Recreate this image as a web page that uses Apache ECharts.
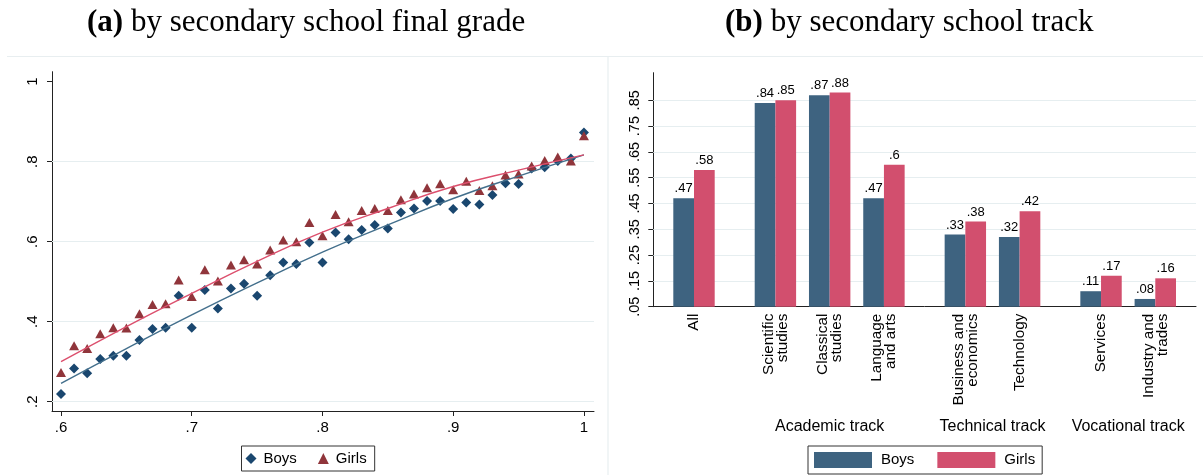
<!DOCTYPE html>
<html>
<head>
<meta charset="utf-8">
<script src="https://cdn.jsdelivr.net/npm/echarts@6/dist/echarts.min.js"></script>
<style>
  html, body { margin: 0; padding: 0; background: #fff; }
  #chart { width: 1203px; height: 475px; }
</style>
</head>
<body>
<div id="chart"></div>
<script>
// ---- Panel (a): share by secondary school final grade ----
const grade = [0.60, 0.61, 0.62, 0.63, 0.64, 0.65, 0.66, 0.67, 0.68, 0.69,
               0.70, 0.71, 0.72, 0.73, 0.74, 0.75, 0.76, 0.77, 0.78, 0.79,
               0.80, 0.81, 0.82, 0.83, 0.84, 0.85, 0.86, 0.87, 0.88, 0.89,
               0.90, 0.91, 0.92, 0.93, 0.94, 0.95, 0.96, 0.97, 0.98, 0.99, 1.00];
const boysShare = [0.219, 0.283, 0.271, 0.307, 0.315, 0.315, 0.354, 0.382, 0.385, 0.465,
                   0.385, 0.479, 0.433, 0.483, 0.495, 0.465, 0.516, 0.548, 0.544, 0.598,
                   0.548, 0.623, 0.606, 0.629, 0.642, 0.633, 0.673, 0.683, 0.702, 0.702,
                   0.682, 0.698, 0.693, 0.717, 0.746, 0.744, 0.783, 0.786, 0.802, 0.808, 0.873];
const girlsShare = [0.273, 0.340, 0.333, 0.370, 0.385, 0.384, 0.420, 0.443, 0.445, 0.504,
                    0.463, 0.530, 0.502, 0.542, 0.555, 0.544, 0.579, 0.604, 0.600, 0.648,
                    0.615, 0.668, 0.650, 0.678, 0.683, 0.678, 0.705, 0.719, 0.735, 0.745,
                    0.730, 0.751, 0.728, 0.740, 0.767, 0.769, 0.789, 0.803, 0.812, 0.802, 0.865];
// fitted curves
const fitGrade = [0.60, 0.65, 0.70, 0.75, 0.80, 0.85, 0.90, 0.95, 1.00];
const boysFit  = [0.246, 0.333, 0.417, 0.497, 0.574, 0.642, 0.708, 0.764, 0.817];
const girlsFit = [0.300, 0.388, 0.471, 0.551, 0.624, 0.683, 0.738, 0.779, 0.817];
const gradeTicks = [0.6, 0.7, 0.8, 0.9, 1];
const shareTicks = [0.2, 0.4, 0.6, 0.8, 1];
const shareGridLines = [0.2, 0.4, 0.6, 0.8];

// ---- Panel (b): share by secondary school track ----
const tracks = ['All', 'Scientific\nstudies', 'Classical\nstudies', 'Language\nand arts',
                'Business and\neconomics', 'Technology', 'Services', 'Industry and\ntrades'];
const boysRate  = [0.47, 0.84, 0.87, 0.47, 0.33, 0.32, 0.11, 0.08];
const girlsRate = [0.58, 0.85, 0.88, 0.60, 0.38, 0.42, 0.17, 0.16];
const trackGroups = ['Academic track', 'Technical track', 'Vocational track'];
const rateTicks = [0.05, 0.15, 0.25, 0.35, 0.45, 0.55, 0.65, 0.75, 0.85];

// slot layout of the track axis (half-width slots, gaps between groups)
const SLOTS = 20;
const trackSlot = [1, 4, 6, 8, 11, 13, 16, 18];
const groupSlot = [6, 12, 17];

const C = {
  navy: '#1a476f', maroon: '#90353b',
  boysLine: '#436f8c', girlsLine: '#dc4f6d',
  boysBar: '#3e6380', girlsBar: '#d24f6e',
  grid: '#e6eef0', axis: '#222', frame: '#e8eef0'
};
const SANS = 'Liberation Sans, Arial, sans-serif';
const SERIF = 'Liberation Serif, Times New Roman, serif';

const fmt = v => {
  const s = String(+Number(v).toFixed(2));
  return s.replace(/^0\./, '.');
};

const slotIdx = Array.from({ length: SLOTS }, (_, i) => String(i));
const slotTrackName = Array(SLOTS).fill('');
trackSlot.forEach((s, i) => { slotTrackName[s] = tracks[i]; });
const slotGroupName = Array(SLOTS).fill('');
groupSlot.forEach((s, i) => { slotGroupName[s] = trackGroups[i]; });
const boysSlots = Array(SLOTS).fill(null);
const girlsSlots = Array(SLOTS).fill(null);
trackSlot.forEach((s, i) => { boysSlots[s] = boysRate[i]; girlsSlots[s] = girlsRate[i]; });

const gridLineMark = values => ({
  silent: true,
  symbol: 'none',
  z: 1,
  label: { show: false },
  lineStyle: { color: C.grid, width: 1.2, type: 'solid' },
  data: values.map(v => ({ yAxis: v }))
});

const titleStyle = {
  fontFamily: SERIF, fontSize: 31, fontWeight: 'normal', color: '#000',
  rich: { b: { fontFamily: SERIF, fontSize: 31, fontWeight: 'bold', color: '#000' } }
};

const chart = echarts.init(document.getElementById('chart'), null, { renderer: 'canvas' });

const option = {
  backgroundColor: '#fff',
  animation: false,
  title: [
    { text: '{b|(a)} by secondary school final grade', left: 82, top: 2, textStyle: titleStyle },
    { text: '{b|(b)} by secondary school track', left: 720, top: 2, textStyle: titleStyle }
  ],
  graphic: [
    { type: 'line', silent: true, shape: { x1: 7, y1: 56.5, x2: 1203, y2: 56.5 },
      style: { stroke: C.frame, lineWidth: 1.2 } },
    { type: 'line', silent: true, shape: { x1: 608, y1: 56.5, x2: 608, y2: 475 },
      style: { stroke: C.frame, lineWidth: 1.2 } }
  ],
  legend: [
    {
      left: 241.5, top: 446,
      orient: 'horizontal',
      borderColor: '#333', borderWidth: 1, borderRadius: 0,
      padding: [5, 8, 5, 4],
      itemWidth: 11, itemHeight: 11, itemGap: 21,
      textStyle: { fontFamily: SANS, fontSize: 15, color: '#000', padding: [0, 0, 0, 2] },
      data: [
        { name: 'Boys', icon: 'diamond', itemStyle: { color: C.navy, opacity: 1 } },
        { name: 'Girls', icon: 'triangle', itemStyle: { color: C.maroon, opacity: 1 } }
      ]
    },
    {
      left: 808, top: 446,
      orient: 'horizontal',
      borderColor: '#333', borderWidth: 1, borderRadius: 0,
      padding: [6, 7, 6, 6],
      itemWidth: 58, itemHeight: 16, itemGap: 23,
      textStyle: { fontFamily: SANS, fontSize: 15, color: '#000', padding: [0, 0, 0, 4] },
      data: [
        { name: 'Boys', icon: 'rect', itemStyle: { color: C.boysBar, opacity: 1 } },
        { name: 'Girls', icon: 'rect', itemStyle: { color: C.girlsBar, opacity: 1 } }
      ]
    }
  ],
  grid: [
    { left: 52, top: 71.7, width: 542, height: 339.3, containLabel: false, outerBoundsMode: 'none' },
    { left: 653.3, top: 72.7, width: 542.7, height: 234, containLabel: false, outerBoundsMode: 'none' }
  ],
  xAxis: [
    {
      type: 'value', gridIndex: 0, min: 0.5931, max: 1.0077,
      axisLine: { show: true, lineStyle: { color: C.axis, width: 1 } },
      axisTick: { show: true, length: 5, customValues: gradeTicks, lineStyle: { color: C.axis } },
      axisLabel: { customValues: gradeTicks, formatter: fmt, margin: 9,
                   fontFamily: SANS, fontSize: 15, color: '#000' },
      splitLine: { show: false }
    },
    {
      type: 'category', gridIndex: 1, data: slotIdx, boundaryGap: true,
      axisLine: { show: true, lineStyle: { color: C.axis, width: 1 } },
      axisTick: { show: false },
      axisLabel: { interval: 0, rotate: 90, margin: 7, formatter: (v, i) => slotTrackName[i],
                   fontFamily: SANS, fontSize: 15.3, lineHeight: 14, color: '#000' },
      splitLine: { show: false }
    },
    {
      type: 'category', gridIndex: 1, data: slotIdx, boundaryGap: true,
      position: 'bottom', offset: 104,
      axisLine: { show: false }, axisTick: { show: false },
      axisLabel: { interval: 0, margin: 8, formatter: (v, i) => slotGroupName[i],
                   fontFamily: SANS, fontSize: 16, color: '#000' },
      splitLine: { show: false }
    }
  ],
  yAxis: [
    {
      type: 'value', gridIndex: 0, min: 0.1768, max: 1.025,
      axisLine: { show: true, lineStyle: { color: C.axis, width: 1 } },
      axisTick: { show: true, length: 5, customValues: shareTicks, lineStyle: { color: C.axis } },
      axisLabel: { customValues: shareTicks, formatter: fmt, rotate: 90, margin: 12,
                   fontFamily: SANS, fontSize: 15, color: '#000' },
      splitLine: { show: false }
    },
    {
      type: 'value', gridIndex: 1, min: 0.05, max: 0.957,
      axisLine: { show: true, lineStyle: { color: C.axis, width: 1 } },
      axisTick: { show: true, length: 5, customValues: rateTicks, lineStyle: { color: C.axis } },
      axisLabel: { customValues: rateTicks, formatter: fmt, rotate: 90, margin: 11,
                   fontFamily: SANS, fontSize: 14.5, color: '#000' },
      splitLine: { show: false }
    }
  ],
  series: [
    {
      name: 'Boys', type: 'scatter', xAxisIndex: 0, yAxisIndex: 0, z: 3,
      symbol: 'diamond', symbolSize: [10, 10],
      itemStyle: { color: C.navy, opacity: 1 },
      data: grade.map((g, i) => [g, boysShare[i]]),
      markLine: gridLineMark(shareGridLines)
    },
    {
      name: 'Girls', type: 'scatter', xAxisIndex: 0, yAxisIndex: 0, z: 3,
      symbol: 'triangle', symbolSize: [10, 9],
      itemStyle: { color: C.maroon, opacity: 1 },
      data: grade.map((g, i) => [g, girlsShare[i]])
    },
    {
      name: 'Boys fit', type: 'line', xAxisIndex: 0, yAxisIndex: 0, z: 4,
      smooth: true, showSymbol: false, symbol: 'none',
      lineStyle: { color: C.boysLine, width: 1.4 },
      data: fitGrade.map((g, i) => [g, boysFit[i]])
    },
    {
      name: 'Girls fit', type: 'line', xAxisIndex: 0, yAxisIndex: 0, z: 4,
      smooth: true, showSymbol: false, symbol: 'none',
      lineStyle: { color: C.girlsLine, width: 1.4 },
      data: fitGrade.map((g, i) => [g, girlsFit[i]])
    },
    {
      name: 'Boys', type: 'bar', xAxisIndex: 1, yAxisIndex: 1, z: 3,
      barWidth: 20.7, barGap: '0%',
      itemStyle: { color: C.boysBar, opacity: 1 },
      label: { show: true, position: 'top', distance: 3, formatter: p => fmt(p.value),
               fontFamily: SANS, fontSize: 13, color: '#000' },
      data: boysSlots,
      markLine: gridLineMark(rateTicks.slice(1))
    },
    {
      name: 'Girls', type: 'bar', xAxisIndex: 1, yAxisIndex: 1, z: 3,
      barWidth: 20.7, barGap: '0%',
      itemStyle: { color: C.girlsBar, opacity: 1 },
      label: { show: true, position: 'top', distance: 3, formatter: p => fmt(p.value),
               fontFamily: SANS, fontSize: 13, color: '#000' },
      data: girlsSlots
    }
  ]
};

chart.setOption(option);
</script>
</body>
</html>
